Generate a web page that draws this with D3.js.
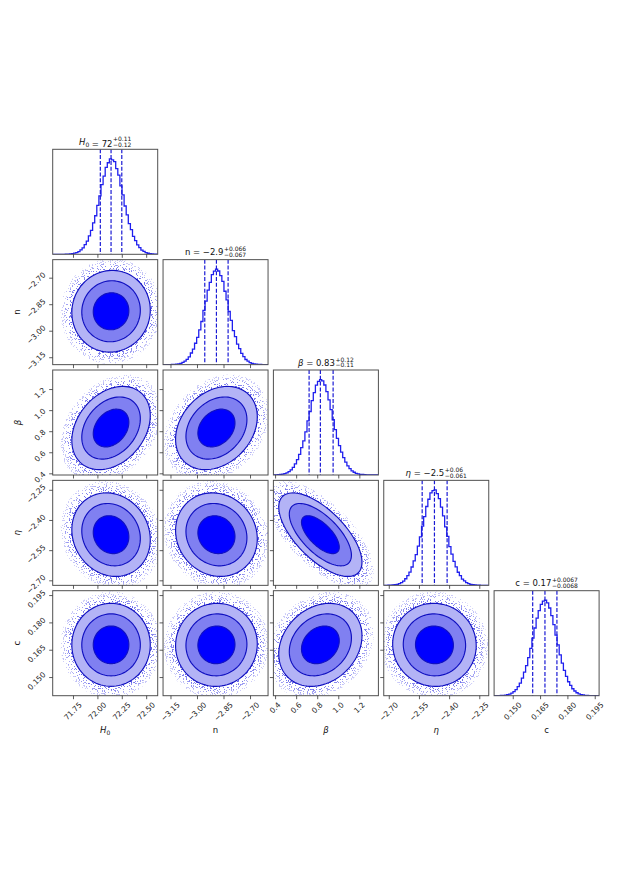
<!DOCTYPE html>
<html>
<head>
<meta charset="utf-8">
<script src="https://cdn.jsdelivr.net/npm/d3@7"></script>
<style>
  body { margin: 0; background: #fff; }
  text { font-family: "DejaVu Sans", sans-serif; white-space: pre; }
</style>
</head>
<body>
<div id="chart"></div>
<script>
// ---- data ----
const paramNames = ["H", "n", "β", "η", "c"];
const paramSubs = ["0", "", "", "", ""];
const paramItalic = [true, false, true, true, false];

// axis limits (= histogram range)
const axisMin = [71.542, -3.192, 0.384, -2.725, 0.13977];
const axisMax = [72.618, -2.598, 1.381, -2.203, 0.1974];

// 16 / 50 / 84 percent quantiles (dashed lines)
const q16 = [72.03, -2.956, 0.723, -2.534, 0.16095];
const q50 = [72.14, -2.890, 0.830, -2.473, 0.16768];
const q84 = [72.25, -2.824, 0.951, -2.410, 0.17425];

// widths of the 2D contours, one per parameter
const sigmas = [0.12, 0.069, 0.118, 0.062, 0.0068];

// titles
const titleMain = ["72", "−2.9", "0.83", "−2.5", "0.17"];
const titleSup = ["+0.11", "+0.066", "+0.12", "+0.06", "+0.0067"];
const titleSub = ["−0.12", "−0.067", "−0.11", "−0.061", "−0.0068"];

// histograms, 50 bins each, relative heights
const histH0 = [0,0,0,0,0,0,0.1,0.2,0.4,0.7, 1.2,1.8,2.9,4.6,6.7,10.2,13.8,19.3,25.1,32.9,
  40.4,51.3,61.2,72.9,81.8,91.0,95.9,100,98.9,97.0, 89.8,82.9,71.7,62.3,50.6,41.2,32.1,25.8,18.7,14.3,
  9.8,6.9,4.4,3.0,1.7,1.1,0.7,0.4,0.2,0.1];
const histN = [0,0,0,0.1,0.2,0.3,0.5,0.9,1.4,2.3, 3.6,5.6,8.1,12.2,16.3,22.4,28.6,36.5,45.2,56.8,
  66.6,78.1,86.1,94.3,97.9,100,98.1,93.2,87.2,76.9, 67.8,55.7,46.3,35.6,29.4,21.6,16.8,11.8,8.4,5.4,
  3.7,2.2,1.4,0.9,0.5,0.3,0.2,0.1,0,0];
const histBeta = [0.1,0.2,0.3,0.5,0.9,1.4,2.2,3.5,5.3,8.0, 11.7,16.2,21.6,28.7,35.8,45.1,56.6,66.5,77.9,86.2,
  94.1,98.0,100,98.6,94.3,87.4,78.6,68.4,57.9,47.6, 38.3,30.8,23.9,18.1,13.4,9.6,6.6,4.4,2.9,1.8,
  1.2,0.7,0.5,0.3,0.2,0.1,0.1,0,0,0];
const histEta = [0,0,0.1,0.2,0.4,0.7,1.1,1.8,2.9,4.4, 6.9,10.1,13.8,19.2,25.7,32.2,41.1,50.7,62.0,72.1,
  82.6,90.2,96.8,99.3,100,96.1,90.8,82.0,72.7,61.3, 51.4,40.5,32.8,25.2,19.3,13.7,10.2,6.6,4.6,2.8,
  1.8,1.1,0.7,0.4,0.2,0.1,0.05,0,0,0];
const histC = [0,0,0.1,0.2,0.3,0.6,1.0,1.7,2.7,4.2, 6.4,9.6,13.1,18.4,24.6,31.5,39.8,49.6,60.4,70.9,
  81.3,89.1,95.7,99.0,100,97.3,91.9,83.9,74.5,63.4, 53.2,42.7,34.1,26.6,20.3,14.6,10.8,7.3,4.9,3.1,
  2.0,1.2,0.8,0.4,0.2,0.1,0.1,0,0,0];

// correlation of each 2D panel: [row, col, rho]
const correlations = [
  [1, 0, 0.03], [2, 0, 0.30], [2, 1, 0.27], [3, 0, -0.12], [3, 1, -0.10],
  [3, 2, -0.66], [4, 0, 0.0], [4, 1, 0.02], [4, 2, 0.22], [4, 3, -0.02]
];

// contour levels in sigma units (68 / 95 / 99.7 %) and the scatter halo
const contourLevels = [1.52, 2.5, 3.35];
const haloLevels = [3.3, 3.5, 3.72, 3.98, 4.3];

// ticks
const ticksH0 = [71.75, 72.00, 72.25, 72.50];
const ticksN = [-3.15, -3.00, -2.85, -2.70];
const ticksBeta = [0.4, 0.6, 0.8, 1.0, 1.2];
const ticksEta = [-2.70, -2.55, -2.40, -2.25];
const ticksC = [0.150, 0.165, 0.180, 0.195];
const labelsH0 = ["71.75", "72.00", "72.25", "72.50"];
const labelsN = ["−3.15", "−3.00", "−2.85", "−2.70"];
const labelsBeta = ["0.4", "0.6", "0.8", "1.0", "1.2"];
const labelsEta = ["−2.70", "−2.55", "−2.40", "−2.25"];
const labelsC = ["0.150", "0.165", "0.180", "0.195"];

// ---- layout ----
const W = 620, H = 877;
const size = 105, step = 110.35, left0 = 52.7, top0 = 149.3;
const tickFont = 7.5, labelFont = 8.5;

const hists = [histH0, histN, histBeta, histEta, histC];
const ticks = [ticksH0, ticksN, ticksBeta, ticksEta, ticksC];
const tickLabels = [labelsH0, labelsN, labelsBeta, labelsEta, labelsC];
const contourFills = ["#0000ff", "#8080f1", "#b3b3f6"];

const svg = d3.select("#chart").append("svg")
    .attr("width", W)
    .attr("height", H);
svg.append("rect").attr("width", W).attr("height", H).attr("fill", "#fff");
const defs = svg.append("defs");

function appendName(t, k, fs) {
    t.append("tspan")
        .attr("font-style", paramItalic[k] ? "italic" : "normal")
        .text(paramNames[k]);
    if (paramSubs[k]) {
        t.append("tspan").attr("font-size", fs * 0.7).attr("dy", fs * 0.22).text(paramSubs[k]);
        t.append("tspan").attr("font-size", fs).attr("dy", -fs * 0.22).text("");
    }
}

function ellipsePoints(mx, my, sx, sy, rho, r) {
    const s = Math.sqrt(1 - rho * rho);
    return d3.range(96).map(k => {
        const t = 2 * Math.PI * k / 96;
        const u = Math.cos(t), v = Math.sin(t);
        return [mx + sx * r * u, my + sy * r * (rho * u + s * v)];
    });
}

function rotatedLabel(g, text) {
    const t = g.append("text")
        .attr("font-size", tickFont)
        .attr("fill", "#222")
        .attr("text-anchor", "middle")
        .attr("dominant-baseline", "central")
        .text(text);
    const L = t.node().getComputedTextLength();
    const h = (L + 0.72 * tickFont) * Math.SQRT1_2;
    return { t, h };
}

let panelIndex = 0;
for (let i = 0; i < 5; i++) {
    for (let j = 0; j <= i; j++) {
        const px = left0 + j * step, py = top0 + i * step;
        const g = svg.append("g").attr("transform", `translate(${px},${py})`);
        const clipId = `clip-${i}-${j}`;
        defs.append("clipPath").attr("id", clipId)
            .append("rect").attr("width", size).attr("height", size);
        const body = g.append("g").attr("clip-path", `url(#${clipId})`);

        const x = d3.scaleLinear().domain([axisMin[j], axisMax[j]]).range([0, size]);
        let y;

        if (i === j) {
            // --- 1D histogram ---
            const counts = hists[j];
            y = d3.scaleLinear().domain([0, 1.1 * d3.max(counts)]).range([size, 0]);
            const edge = d3.scaleLinear().domain([0, counts.length]).range([axisMin[j], axisMax[j]]);
            const pts = [[edge(0), 0]];
            counts.forEach((c, k) => { pts.push([edge(k), c]); pts.push([edge(k + 1), c]); });
            pts.push([edge(counts.length), 0]);
            body.append("path")
                .attr("d", d3.line().x(d => x(d[0])).y(d => y(d[1]))(pts))
                .attr("fill", "none")
                .attr("stroke", "#1f1fee")
                .attr("stroke-width", 1.3);

            [q16[j], q50[j], q84[j]].forEach(v => {
                body.append("line")
                    .attr("x1", x(v)).attr("x2", x(v))
                    .attr("y1", 0).attr("y2", size)
                    .attr("stroke", "#1a1ad4")
                    .attr("stroke-width", 1.2)
                    .attr("stroke-dasharray", "4,1.8");
            });
        } else {
            // --- 2D contours ---
            y = d3.scaleLinear().domain([axisMin[i], axisMax[i]]).range([size, 0]);
            const rho = correlations.find(c => c[0] === i && c[1] === j)[2];
            const line = d3.line().x(d => x(d[0])).y(d => y(d[1])).curve(d3.curveLinearClosed);
            const ell = r => line(ellipsePoints(q50[j], q50[i], sigmas[j], sigmas[i], rho, r));

            // speckled scatter halo (texture only)
            const fid = `speckle-${i}-${j}`;
            const f = defs.append("filter").attr("id", fid)
                .attr("filterUnits", "userSpaceOnUse")
                .attr("x", -10).attr("y", -10).attr("width", size + 20).attr("height", size + 20)
                .attr("color-interpolation-filters", "sRGB");
            f.append("feTurbulence").attr("type", "fractalNoise").attr("baseFrequency", 0.85)
                .attr("numOctaves", 2).attr("seed", panelIndex + 3).attr("result", "noise");
            f.append("feColorMatrix").attr("in", "noise").attr("type", "matrix")
                .attr("values", "0 0 0 0 0.1  0 0 0 0 0.1  0 0 0 0 0.88  1 0 0 0 0")
                .attr("result", "a");
            f.append("feComponentTransfer").attr("in", "a").attr("result", "dots")
                .append("feFuncA").attr("type", "discrete").attr("tableValues", "0 0 0 0 0 0 0.85 1 1 1");
            f.append("feComposite").attr("in", "dots").attr("in2", "SourceGraphic").attr("operator", "in");

            const halo = body.append("g").attr("filter", `url(#${fid})`);
            haloLevels.forEach(r => {
                halo.append("path").attr("d", ell(r)).attr("fill", "#0000ff").attr("fill-opacity", 0.27);
            });

            for (let k = contourLevels.length - 1; k >= 0; k--) {
                body.append("path").attr("d", ell(contourLevels[k])).attr("fill", contourFills[k]);
            }
            contourLevels.forEach(r => {
                body.append("path").attr("d", ell(r))
                    .attr("fill", "none")
                    .attr("stroke", "#1010c0")
                    .attr("stroke-width", 1.15);
            });
        }

        // frame
        g.append("rect").attr("width", size).attr("height", size)
            .attr("fill", "none").attr("stroke", "#505050").attr("stroke-width", 1);

        // ticks
        const xa = g.append("g").attr("transform", `translate(0,${size})`)
            .call(d3.axisBottom(x).tickValues(ticks[j]).tickSize(3.5).tickFormat(""));
        xa.select(".domain").remove();
        xa.selectAll("line").attr("stroke", "#333").attr("stroke-width", 0.8);

        if (i !== j) {
            const ya = g.append("g")
                .call(d3.axisLeft(y).tickValues(ticks[i]).tickSize(3.5).tickFormat(""));
            ya.select(".domain").remove();
            ya.selectAll("line").attr("stroke", "#333").attr("stroke-width", 0.8);
        }

        if (i === 4) {
            ticks[j].forEach((v, k) => {
                const { t, h } = rotatedLabel(g, tickLabels[j][k]);
                t.attr("transform", `translate(${x(v)},${size + 6 + h / 2}) rotate(-45)`);
            });
        }
        if (j === 0 && i > 0) {
            ticks[i].forEach((v, k) => {
                const { t, h } = rotatedLabel(g, tickLabels[i][k]);
                t.attr("transform", `translate(${-6.5 - h / 2},${y(v) + 4}) rotate(-45)`);
            });
        }

        // titles on the diagonal
        if (i === j) {
            const cx = px + size / 2, baseY = py - 4.5;
            const t = svg.append("text").attr("y", baseY).attr("font-size", labelFont).attr("fill", "#111");
            appendName(t, j, labelFont);
            t.append("tspan").text(` = ${titleMain[j]}`);
            const w = t.node().getComputedTextLength();
            const sup = svg.append("text").attr("y", baseY - 4).attr("font-size", 6).attr("fill", "#111").text(titleSup[j]);
            const sub = svg.append("text").attr("y", baseY + 1.8).attr("font-size", 6).attr("fill", "#111").text(titleSub[j]);
            const ws = Math.max(sup.node().getComputedTextLength(), sub.node().getComputedTextLength());
            const x0 = cx - (w + ws + 0.5) / 2;
            t.attr("x", x0);
            sup.attr("x", x0 + w + 0.5);
            sub.attr("x", x0 + w + 0.5);
        }
        panelIndex++;
    }
}

// axis labels
for (let k = 0; k < 5; k++) {
    const bx = left0 + k * step + size / 2;
    const bl = svg.append("text").attr("x", bx).attr("y", top0 + 4 * step + size + 37.5)
        .attr("text-anchor", "middle").attr("font-size", labelFont).attr("fill", "#111");
    appendName(bl, k, labelFont);
    if (k > 0) {
        const cy = top0 + k * step + size / 2;
        const yl = svg.append("text").attr("x", 20.5).attr("y", cy)
            .attr("transform", `rotate(-90,20.5,${cy})`)
            .attr("text-anchor", "middle").attr("font-size", labelFont).attr("fill", "#111");
        appendName(yl, k, labelFont);
    }
}
</script>
</body>
</html>
